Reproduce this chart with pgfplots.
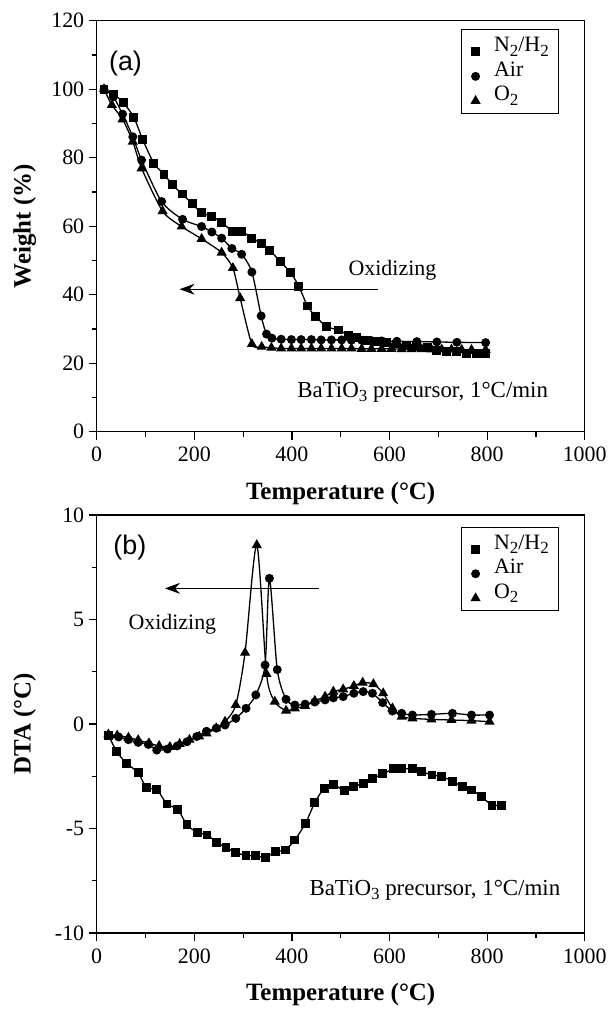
\documentclass[border=0pt]{standalone}
\usepackage{fontspec}
\setmainfont{Liberation Serif}
\newfontfamily\panelfont{Liberation Sans}
\usepackage{pgfplots}
\pgfplotsset{compat=1.18}
\usetikzlibrary{arrows.meta}

% lowered, slightly reduced digit for chemical formulas
\newcommand{\sub}[1]{\raisebox{-0.45ex}{\fontsize{17}{17}\selectfont #1}}

% ---------------- TGA data: temperature (C), weight (%) ----------------
\pgfplotstableread{
T W
15 100
34 98.6
55 96.0
76 91.8
94 85.4
117 78.4
138 75.2
155 72.1
175 69.4
196 66.5
215 63.9
236 62.9
256 61.1
279 58.5
297 58.5
318 56.5
337 55.0
355 52.9
376 49.7
397 46.5
414 42.5
432 36.7
449 33.6
471 30.7
495 29.7
516 28.2
533 27.6
553 26.6
574 26.3
594 26.0
615 25.6
635 25.3
656 25.0
677 24.5
697 23.7
717 23.4
738 23.4
758 22.9
779 22.8
797 22.7
}\tgaNH

\pgfplotstableread{
T W
15 100
34 97.8
53 92.7
74 86.1
92 79.3
133 67.2
176 62.0
215 59.9
236 58.3
256 56.5
277 53.5
297 51.8
318 46.6
337 33.8
348 28.5
359 27.3
378 27.0
399 26.9
419 26.9
440 26.9
460 26.8
481 26.8
502 26.8
522 26.7
543 26.7
563 26.6
584 26.5
615 26.4
656 26.3
697 26.2
738 26.1
797 26.0
}\tgaAir

\pgfplotstableread{
T W
15 100
31 95.4
53 91.2
74 84.7
92 76.9
135 64.4
174 59.9
215 56.3
256 52.3
279 47.8
294 39.0
318 25.6
338 24.8
358 24.5
378 24.3
399 24.3
419 24.3
440 24.3
460 24.3
481 24.3
502 24.3
522 24.3
543 24.2
563 24.2
584 24.2
604 24.2
625 24.1
645 24.1
666 24.1
686 24.0
707 24.0
727 24.0
748 23.9
768 23.9
797 23.9
}\tgaOO

% ---------------- DTA data: temperature (C), DTA signal (C) ----------------
\pgfplotstableread{
T D
24 -0.53
41 -1.32
61 -1.88
85 -2.33
102 -3.05
123 -3.13
144 -3.83
166 -4.08
185 -4.83
206 -5.18
226 -5.31
246 -5.66
265 -5.92
285 -6.14
306 -6.30
326 -6.30
346 -6.38
366 -6.11
386 -6.03
406 -5.55
428 -4.74
447 -3.76
466 -3.08
486 -2.90
507 -3.19
527 -3.00
546 -2.83
566 -2.60
586 -2.39
608 -2.15
625 -2.15
647 -2.15
666 -2.28
687 -2.44
707 -2.52
729 -2.73
749 -3.00
768 -3.16
789 -3.48
810 -3.88
830 -3.88
}\dtaNH

\pgfplotstableread{
T D
24 -0.53
45 -0.62
65 -0.75
85 -0.88
106 -0.98
123 -1.25
145 -1.20
165 -1.05
185 -0.85
205 -0.60
225 -0.35
245 -0.20
263 -0.05
285 0.27
306 0.75
326 1.39
345 2.82
354 6.97
370 2.60
388 1.18
406 0.91
427 0.95
447 1.05
468 1.15
485 1.25
505 1.31
527 1.47
546 1.55
565 1.47
586 1.02
606 0.62
625 0.51
647 0.43
686 0.46
729 0.51
768 0.43
805 0.43
}\dtaAir

\pgfplotstableread{
T D
24 -0.50
42 -0.55
65 -0.65
85 -0.77
107 -0.92
128 -1.05
150 -1.10
170 -0.95
190 -0.75
210 -0.60
225 -0.45
245 -0.20
263 0.11
285 0.91
304 3.41
328 8.56
348 2.39
365 1.07
388 0.64
406 0.75
427 0.86
447 1.11
468 1.31
485 1.55
505 1.66
527 1.82
545 1.98
567 1.91
587 1.47
606 0.75
625 0.35
647 0.27
686 0.22
727 0.19
768 0.16
805 0.11
}\dtaOO

% marker styles of the three atmospheres
\tikzset{
  sq/.style={mark=square*, mark size=3.8bp, mark options={solid, draw=black, fill=black}},
  ci/.style={mark=*, mark size=3.8bp, mark options={solid, draw=black, fill=black}},
  tr/.style={mark=triangle*, mark size=4.6bp, mark options={solid, draw=black, fill=black}},
}

\pgfplotsset{
  panel/.style={
    scale only axis, width=488bp,
    xmin=0, xmax=1000, xtick={0,200,...,1000}, minor x tick num=1,
    tick align=outside, xtick pos=bottom, ytick pos=left,
    major tick length=8bp, minor tick length=5bp,
    axis line style={line width=1.3bp},
    every tick/.style={black, line width=1.2bp},
    tick label style={font=\fontsize{22}{22}\selectfont},
    /pgf/number format/assume math mode=true,
    /pgf/number format/1000 sep={},
    xticklabel style={yshift=-4bp},
    yticklabel style={xshift=-1bp},
    every axis x label/.style={at={([yshift=-62bp]axis description cs:0.5,0)}, anchor=center,
      font=\bfseries\fontsize{25}{25}\selectfont},
    every axis y label/.style={at={([xshift=-72bp]axis description cs:0,0.5)}, anchor=center, rotate=90,
      font=\bfseries\fontsize{25}{25}\selectfont},
    legend style={draw=black, line width=1.1bp, font=\fontsize{22}{22}\selectfont,
      inner xsep=10bp, inner ysep=8bp, row sep=6bp,
      /tikz/every odd column/.append style={column sep=14bp},
      nodes={inner sep=0pt, text height=14bp, text depth=4bp, anchor=base west}},
    legend cell align=left,
    % marker-only legend symbol; the box is reserved without drawing anything
    legend image code/.code={%
      \pgfpathrectangle{\pgfpoint{-4.5bp}{-4.5bp}}{\pgfpoint{9bp}{9bp}}%
      \pgfusepath{use as bounding box}%
      \draw[##1, line width=1.3bp] plot coordinates {(0bp,0bp)};},
    every axis plot/.append style={black, line width=1.3bp, smooth, tension=0.45},
    clip=false,
  },
}

\begin{document}
\begin{tikzpicture}
\path[use as bounding box] (0,0) rectangle (612bp,1011bp);

% ---------------- (a) thermogravimetry ----------------
\begin{axis}[panel,
  at={(96.7bp,579.3bp)}, anchor=south west, height=411bp,
  ymin=0, ymax=120, ytick={0,20,...,120}, minor y tick num=1,
  xlabel={Temperature (\textdegree C)}, ylabel={Weight (\%)},
  legend style={at={(axis description cs:0.948,0.979)}, anchor=north east},
]
\addlegendimage{only marks, sq}
\addlegendentry{N\sub{2}/H\sub{2}}
\addlegendimage{only marks, ci}
\addlegendentry{Air}
\addlegendimage{only marks, tr}
\addlegendentry{O\sub{2}}
\addplot[sq, forget plot] table[x=T, y=W] {\tgaNH};
\addplot[ci, forget plot] table[x=T, y=W] {\tgaAir};
\addplot[tr, forget plot] table[x=T, y=W] {\tgaOO};
\node[font=\panelfont\fontsize{27}{27}\selectfont] at (axis cs:59,107.6) {(a)};
\node[font=\fontsize{22}{22}\selectfont] at (axis cs:606,47.1) {Oxidizing};
\draw[line width=1.1bp, -{Stealth[length=15bp, width=11bp, inset=5bp]}] (axis cs:576,41.6) -- (axis cs:170,41.6);
\node[font=\fontsize{23}{23}\selectfont] at (axis cs:668,11.6) {BaTiO\sub{3} precursor, 1\textdegree C/min};
\end{axis}

% ---------------- (b) differential thermal analysis ----------------
\begin{axis}[panel,
  at={(96.7bp,78bp)}, anchor=south west, height=418bp,
  ymin=-10, ymax=10, ytick={-10,-5,0,5,10}, minor y tick num=1,
  xlabel={Temperature (\textdegree C)}, ylabel={DTA (\textdegree C)},
  legend style={at={(axis description cs:0.948,0.972)}, anchor=north east},
]
\addlegendimage{only marks, sq}
\addlegendentry{N\sub{2}/H\sub{2}}
\addlegendimage{only marks, ci}
\addlegendentry{Air}
\addlegendimage{only marks, tr}
\addlegendentry{O\sub{2}}
\addplot[sq, forget plot] table[x=T, y=D] {\dtaNH};
\addplot[ci, forget plot] table[x=T, y=D] {\dtaAir};
\addplot[tr, forget plot] table[x=T, y=D] {\dtaOO};
\node[font=\panelfont\fontsize{27}{27}\selectfont] at (axis cs:68,8.45) {(b)};
\node[font=\fontsize{22}{22}\selectfont] at (axis cs:155,4.78) {Oxidizing};
\draw[line width=1.1bp, -{Stealth[length=15bp, width=11bp, inset=5bp]}] (axis cs:456,6.49) -- (axis cs:140,6.49);
\node[font=\fontsize{23}{23}\selectfont] at (axis cs:693,-7.94) {BaTiO\sub{3} precursor, 1\textdegree C/min};
\end{axis}
\end{tikzpicture}
\end{document}
